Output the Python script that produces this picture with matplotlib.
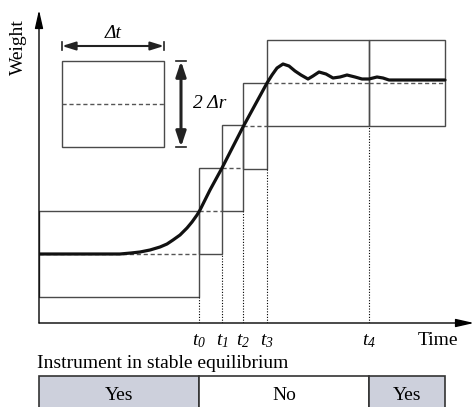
#!/usr/bin/env python
"""Weight reading of an instrument settling to stable equilibrium.

Boxes of width dt and height 2*dr are stacked along the curve; the
reading counts as stable once the curve stays inside one box.
"""

import matplotlib
matplotlib.use("Agg")
import matplotlib.pyplot as plt
from matplotlib.patches import Rectangle

plt.rcParams["font.family"] = ["Liberation Serif", "DejaVu Serif"]
plt.rcParams["mathtext.fontset"] = "custom"
plt.rcParams["mathtext.it"] = "Liberation Serif:italic"
plt.rcParams["mathtext.rm"] = "Liberation Serif:italic"
plt.rcParams["mathtext.default"] = "it"

# Time marks (t0..t4) and end of the record
tick_times = [160, 183, 204, 228, 330]
tick_labels = [r"$t_0$", r"$t_1$", r"$t_2$", r"$t_3$", r"$t_4$"]
t_end = 406

# Box edges in time and the weight at the centre of each box
box_starts = [0, 160, 183, 204, 228, 330]
box_ends = [160, 183, 204, 228, 330, 406]
box_centres = [69, 112, 155, 197, 240, 240]
half_range = 43  # dr

# Weight curve
curve_t = [0, 81, 92, 101, 111, 121, 128, 134, 141, 148, 153, 158, 161,
           171, 183, 204, 228, 233, 238, 244, 250, 256, 262, 269, 274,
           280, 287, 294, 301, 308, 316, 323, 330, 338, 344, 350, 370, 406]
curve_w = [69, 69, 70, 71, 73, 76, 79, 83, 88, 95, 101, 108, 113,
           133, 155, 196, 240, 248, 255, 259, 257, 252, 248, 244, 247,
           251, 249, 245, 246, 248, 246, 244, 244, 246, 245, 243, 243, 243]

# Stable equilibrium strip
strip_edges = [0, 160, 330, 406]
strip_labels = ["Yes", "No", "Yes"]
strip_colours = ["#cdd0dc", "white", "#cdd0dc"]

BOX_COLOUR = "#4a4a4a"
FONT_SIZE = 14


def draw_boxes(ax):
    """Tolerance boxes, their centre lines and the dotted drop lines."""
    for start, end, centre in zip(box_starts, box_ends, box_centres):
        ax.add_patch(Rectangle((start, centre - half_range), end - start,
                               2 * half_range, fill=False, lw=1.0,
                               ec=BOX_COLOUR, zorder=2))
        ax.plot([start, end], [centre, centre], color="#555555", lw=1.0,
                dashes=(3, 2), zorder=2)

    # dotted line from the lowest neighbouring box down to the time axis
    for t in tick_times:
        bottoms = [c - half_range for s, e, c in
                   zip(box_starts, box_ends, box_centres) if s == t or e == t]
        ax.plot([t, t], [0, min(bottoms)], color="black", lw=0.8,
                ls=(0, (1, 1.5)), zorder=2)


def draw_legend_box(ax):
    """Sample box with the dt and 2dr dimensions."""
    left, right = 23, 125
    centre = 219
    ax.add_patch(Rectangle((left, centre - half_range), right - left,
                           2 * half_range, fill=False, lw=1.0,
                           ec=BOX_COLOUR))
    ax.plot([left, right], [centre, centre], color="#555555", lw=1.0,
            dashes=(3, 2))

    # dt arrow above the box
    y_dt = 277
    ax.annotate("", xy=(right, y_dt), xytext=(left, y_dt),
                arrowprops=dict(arrowstyle="<|-|>,head_length=0.8,head_width=0.25",
                                color="#222222", lw=1.5,
                                shrinkA=0, shrinkB=0))
    ax.plot([left, left], [y_dt - 4, y_dt + 4], color="#222222", lw=1.2)
    ax.plot([right, right], [y_dt - 4, y_dt + 4], color="#222222", lw=1.2)
    ax.text((left + right) / 2, y_dt + 4, "Δt", style="italic",
            ha="center", va="bottom", fontsize=FONT_SIZE)

    # 2dr arrow right of the box
    x_dr = 142
    top, bottom = centre + half_range, centre - half_range
    ax.annotate("", xy=(x_dr, top), xytext=(x_dr, bottom),
                arrowprops=dict(arrowstyle="<|-|>,head_length=0.9,head_width=0.3",
                                color="#222222", lw=2.2,
                                shrinkA=0, shrinkB=0))
    ax.plot([x_dr - 5, x_dr + 5], [top, top], color="#222222", lw=1.2)
    ax.plot([x_dr - 5, x_dr + 5], [bottom, bottom], color="#222222", lw=1.2)
    ax.text(x_dr + 12, centre, "2 Δr", style="italic", ha="left",
            va="center", fontsize=FONT_SIZE)


def draw_axes(ax):
    """Arrow axes, tick labels and axis titles."""
    arrow = dict(arrowstyle="-|>,head_length=1.1,head_width=0.25",
                 color="black", lw=1.0, shrinkA=0, shrinkB=0)
    ax.annotate("", xy=(0, 313), xytext=(0, 0), arrowprops=arrow,
                annotation_clip=False)
    ax.annotate("", xy=(435, 0), xytext=(0, 0), arrowprops=arrow,
                annotation_clip=False)

    for t, label in zip(tick_times, tick_labels):
        ax.text(t, -9, label, ha="center", va="top", fontsize=FONT_SIZE,
                clip_on=False)
    ax.text(399, -9, "Time", ha="center", va="top", fontsize=FONT_SIZE,
            clip_on=False)
    ax.text(-21, 276, "Weight", ha="center", va="center", rotation=90,
            fontsize=FONT_SIZE, clip_on=False)


def draw_strip(ax):
    """Yes/No strip under the time axis."""
    ax.text(-2, -40, "Instrument in stable equilibrium", ha="left",
            va="center", fontsize=FONT_SIZE, clip_on=False)
    top, height = -53, 40
    for start, end, label, colour in zip(strip_edges[:-1], strip_edges[1:],
                                         strip_labels, strip_colours):
        ax.add_patch(Rectangle((start, top - height), end - start, height,
                               fc=colour, ec="#333333", lw=1.2,
                               clip_on=False))
        ax.text((start + end) / 2, -72, label, ha="center", va="center",
                fontsize=FONT_SIZE, clip_on=False)


def main():
    fig = plt.figure(figsize=(4.75, 4.07), dpi=100)
    ax = fig.add_axes([39 / 475, 84 / 407, 436 / 475, 315 / 407])
    ax.set_xlim(0, 436)
    ax.set_ylim(0, 315)
    ax.axis("off")

    draw_boxes(ax)
    draw_legend_box(ax)
    ax.plot(curve_t, curve_w, color="#111111", lw=2.3,
            solid_joinstyle="round", solid_capstyle="round", zorder=4)
    draw_axes(ax)
    draw_strip(ax)

    fig.savefig("out.png", dpi=100)


if __name__ == "__main__":
    main()
